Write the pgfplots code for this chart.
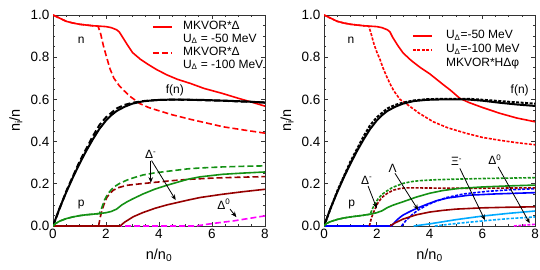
\documentclass[border=0pt]{standalone}
\usepackage{fontspec}
\setmainfont{Liberation Sans}
\usepackage{pgfplots}
\pgfplotsset{compat=1.18}
\usetikzlibrary{arrows.meta}
\definecolor{myred}{RGB}{255,0,0}
\definecolor{mygreen}{RGB}{20,145,20}
\definecolor{mydred}{RGB}{150,0,0}
\definecolor{mymag}{RGB}{255,0,255}
\definecolor{myblue}{RGB}{0,0,255}
\definecolor{mycyan}{RGB}{0,170,255}
\tikzset{
  lab/.style={font=\fontsize{12}{13}\selectfont},
  leg/.style={font=\fontsize{12}{13}\selectfont, anchor=mid west, inner sep=0pt},
  arr/.style={-{Stealth[length=5.5pt,width=4.5pt]}, line width=0.8pt, black},
}
\pgfplotsset{
  lw/.style={line width=1.6pt},
  bw/.style={line width=2pt},
  ldash/.style={dash pattern=on 6pt off 3pt},
  sdash/.style={dash pattern=on 3pt off 1.5pt},
  myaxis/.style={
    scale only axis, width=212pt, height=211pt,
    xmin=0, xmax=8, ymin=0, ymax=1,
    xtick={0,2,4,6,8}, ytick={0,0.2,0.4,0.6,0.8,1.0},
    minor x tick num=3, minor y tick num=3,
    tick align=inside, major tick length=4pt, minor tick length=2pt,
    axis line style={line width=0.8pt, black!80},
    every tick/.style={black!80, line width=0.6pt},
    /pgf/number format/assume math mode=true,
    ticklabel style={font=\fontsize{13.5}{15}\selectfont},
    yticklabel style={/pgf/number format/.cd, fixed, fixed zerofill, precision=1},
    xlabel={n/n\textsubscript{0}}, ylabel={n\textsubscript{i}/n},
    label style={font=\fontsize{14.5}{16}\selectfont},
    xlabel style={at={(axis description cs:0.5,-0.137)}, anchor=center},
    ylabel style={at={(axis description cs:-0.175,0.5)}, anchor=center},
  },
}
\begin{document}
\begin{tikzpicture}[x=1pt,y=1pt]
% ================= LEFT =================
\begin{axis}[myaxis, at={(53pt,44pt)}, anchor=south west]
% legend samples
\addplot[color=myred, lw] coordinates {(3.77,0.943) (4.49,0.943)};
\addplot[color=myred, lw, ldash] coordinates {(3.77,0.82) (4.49,0.82)};
\node[leg] at (axis cs:4.9,0.943) {MKVOR*Δ};
\node[leg] at (axis cs:4.9,0.884) {U\textsubscript{Δ} = -50 MeV};
\node[leg] at (axis cs:4.9,0.82) {MKVOR*Δ};
\node[leg] at (axis cs:4.9,0.761) {U\textsubscript{Δ} = -100 MeV};
% n
\addplot[color=myred, lw] coordinates {(0,1.0) (0.25,0.985) (0.5,0.97) (0.75,0.962) (1,0.956) (1.5,0.949) (2,0.945) (2.2,0.94) (2.4,0.93) (2.5,0.92) (2.6,0.9) (2.8,0.86) (3.0,0.822) (3.3,0.79) (3.6,0.765) (3.9,0.742) (4.3,0.716) (4.7,0.695) (5.2,0.675) (5.7,0.652) (6.4,0.628) (7.0,0.605) (7.5,0.587) (8,0.568)};
\addplot[color=myred, lw, ldash] coordinates {(0,1.0) (0.25,0.985) (0.5,0.97) (0.75,0.962) (1,0.956) (1.5,0.949) (1.7,0.947) (1.8,0.91) (1.9,0.855) (2.0,0.81) (2.15,0.745) (2.3,0.70) (2.5,0.665) (2.65,0.645) (2.9,0.615) (3.28,0.58) (3.6,0.562) (3.9,0.55) (4.5,0.527) (5.17,0.506) (5.8,0.488) (6.43,0.47) (7.2,0.455) (8,0.44)};
% f(n)
\addplot[color=black, bw] coordinates {(0,0) (0.25,0.085) (0.5,0.16) (0.75,0.23) (1,0.295) (1.25,0.355) (1.5,0.41) (1.75,0.46) (2,0.5) (2.2,0.525) (2.4,0.545) (2.7,0.565) (3.0,0.58) (3.4,0.591) (3.9,0.597) (4.5,0.599) (5.5,0.598) (6.5,0.594) (7.3,0.59) (8,0.585)};
\addplot[color=black, bw, ldash] coordinates {(0,0) (0.5,0.165) (1,0.305) (1.5,0.425) (1.75,0.478) (2,0.515) (2.4,0.557) (2.7,0.574) (3,0.584) (3.4,0.592) (3.9,0.597) (4.5,0.599) (5.5,0.597) (6.5,0.593) (7.3,0.589) (8,0.585)};
% Delta0
\addplot[color=mymag, lw, ldash] coordinates {(0,0) (5.4,0) (5.8,0.008) (6.4,0.018) (6.8,0.024) (7.4,0.036) (8,0.048)};
% Delta-
\addplot[color=mydred, lw] coordinates {(0,0) (2.53,0) (2.7,0.018) (3.03,0.044) (3.4,0.064) (3.85,0.084) (4.3,0.1) (5.1,0.123) (5.55,0.135) (6.37,0.15) (7.2,0.163) (8,0.174)};
\addplot[color=mydred, lw, ldash] coordinates {(1.72,0) (1.78,0.04) (1.84,0.07) (1.93,0.105) (2.03,0.135) (2.15,0.155) (2.28,0.17) (2.5,0.183) (2.8,0.193) (3.3,0.2) (3.85,0.207) (4.5,0.215) (5.1,0.221) (6,0.227) (7,0.231) (8,0.234)};
% p
\addplot[color=mygreen, lw] coordinates {(0,0) (0.1,0.012) (0.25,0.023) (0.5,0.035) (0.75,0.043) (1,0.049) (1.25,0.053) (1.5,0.056) (1.75,0.059) (2.0,0.063) (2.2,0.069) (2.4,0.08) (2.6,0.1) (2.8,0.115) (3.0,0.128) (3.4,0.152) (3.85,0.175) (4.3,0.193) (5.1,0.222) (5.55,0.233) (6.4,0.245) (7.2,0.251) (8,0.256)};
\addplot[color=mygreen, lw, ldash] coordinates {(0,0) (0.1,0.012) (0.25,0.023) (0.5,0.035) (0.75,0.043) (1,0.049) (1.25,0.053) (1.5,0.056) (1.75,0.059) (1.85,0.09) (1.95,0.125) (2.05,0.148) (2.15,0.165) (2.3,0.185) (2.53,0.203) (2.8,0.218) (3.0,0.227) (3.4,0.242) (3.85,0.252) (4.3,0.259) (5.1,0.271) (5.55,0.275) (6.4,0.28) (7.2,0.283) (8,0.285)};
% labels
\node[lab] at (axis cs:1.06,0.878) {n};
\node[lab] at (axis cs:1.06,0.104) {p};
\node[lab] at (axis cs:4.6,0.645) {f(n)};
\node[lab] at (axis cs:3.69,0.34) {Δ\textsuperscript{-}};
\draw[arr] (axis cs:3.69,0.31) -- (axis cs:3.69,0.205);
\draw[arr] (axis cs:3.72,0.31) -- (axis cs:4.63,0.123);
\node[lab] at (axis cs:6.45,0.104) {Δ\textsuperscript{0}};
\draw[arr] (axis cs:6.68,0.08) -- (axis cs:6.92,0.042);
\end{axis}
% ================= RIGHT =================
\begin{axis}[myaxis, at={(324pt,44pt)}, anchor=south west, width=211pt]
% legend samples
\addplot[color=myred, lw] coordinates {(3.37,0.9) (4.09,0.9)};
\addplot[color=myred, lw, sdash] coordinates {(3.37,0.834) (4.09,0.834)};
\node[leg] at (axis cs:4.62,0.9) {U\textsubscript{Δ}=-50 MeV};
\node[leg] at (axis cs:4.62,0.834) {U\textsubscript{Δ}=-100 MeV};
\node[leg] at (axis cs:4.62,0.768) {MKVOR*HΔφ};
% n
\addplot[color=myred, lw] coordinates {(0,1.0) (0.25,0.985) (0.5,0.97) (0.75,0.962) (1,0.956) (1.5,0.949) (2,0.945) (2.2,0.94) (2.4,0.93) (2.5,0.92) (2.6,0.895) (2.8,0.855) (3.0,0.82) (3.3,0.785) (3.64,0.752) (4.0,0.722) (4.5,0.672) (4.8,0.643) (5.15,0.605) (5.5,0.585) (6.0,0.562) (6.67,0.534) (7.3,0.512) (8,0.494)};
\addplot[color=myred, lw, sdash] coordinates {(0,1.0) (0.25,0.985) (0.5,0.97) (0.75,0.962) (1,0.956) (1.5,0.949) (1.7,0.947) (1.8,0.905) (1.9,0.86) (2.0,0.825) (2.12,0.79) (2.25,0.745) (2.37,0.71) (2.5,0.675) (2.65,0.64) (2.88,0.6) (3.2,0.572) (3.6,0.535) (4.14,0.494) (4.7,0.465) (5.4,0.439) (6.0,0.42) (6.67,0.406) (7.3,0.395) (8,0.385)};
% f(n)
\addplot[color=black, bw] coordinates {(0,0) (0.25,0.085) (0.5,0.16) (0.75,0.23) (1,0.295) (1.25,0.355) (1.5,0.41) (1.75,0.46) (2,0.5) (2.2,0.525) (2.4,0.545) (2.7,0.565) (3.0,0.58) (3.4,0.592) (3.9,0.598) (4.5,0.6) (5.4,0.6) (6.0,0.594) (6.67,0.584) (7.3,0.576) (8,0.569)};
\addplot[color=black, bw, sdash] coordinates {(0,0) (0.5,0.165) (1,0.305) (1.5,0.425) (1.75,0.478) (2,0.515) (2.4,0.557) (2.7,0.574) (3,0.585) (3.4,0.595) (3.9,0.601) (4.5,0.603) (5.5,0.603) (6.67,0.592) (7.3,0.586) (8,0.58)};
% Delta0
\addplot[color=mymag, lw, sdash] coordinates {(7.2,0) (7.6,0.004) (8,0.008)};
% Xi-
\addplot[color=mycyan, lw] coordinates {(3.4,0) (4,0.01) (5,0.03) (6,0.047) (7,0.06) (8,0.071)};
\addplot[color=mycyan, lw, sdash] coordinates {(4.2,0) (5.09,0.013) (6.35,0.028) (7,0.035) (8,0.043)};
% Lambda
\addplot[color=myblue, lw] coordinates {(0,0) (2.56,0) (2.7,0.02) (2.85,0.038) (3.0,0.052) (3.2,0.065) (3.38,0.076) (3.6,0.088) (3.9,0.103) (4.27,0.12) (4.7,0.133) (5.5,0.146) (6.5,0.152) (8,0.158)};
\addplot[color=myblue, lw, sdash] coordinates {(2.94,0) (3.1,0.025) (3.38,0.058) (3.6,0.078) (3.89,0.098) (4.2,0.115) (4.65,0.135) (5.3,0.152) (6.16,0.164) (7,0.171) (8,0.177)};
% Delta-
\addplot[color=mydred, lw] coordinates {(2.5,0) (2.7,0.015) (3.0,0.033) (3.5,0.053) (4,0.066) (4.5,0.074) (5,0.08) (6,0.086) (7,0.089) (8,0.091)};
\addplot[color=mydred, lw, sdash] coordinates {(1.72,0) (1.8,0.04) (1.93,0.08) (2.05,0.11) (2.19,0.135) (2.4,0.155) (2.63,0.17) (2.9,0.178) (3.13,0.181) (4,0.18) (5,0.179) (6,0.179) (7,0.18) (8,0.181)};
% p
\addplot[color=mygreen, lw] coordinates {(0,0) (0.1,0.012) (0.25,0.021) (0.5,0.031) (0.75,0.038) (1,0.043) (1.25,0.047) (1.5,0.051) (1.75,0.056) (2.0,0.063) (2.2,0.072) (2.4,0.087) (2.6,0.098) (3.0,0.115) (3.5,0.137) (4.0,0.155) (4.5,0.168) (5.1,0.178) (6,0.185) (7,0.19) (8,0.194)};
\addplot[color=mygreen, lw, sdash] coordinates {(0,0) (0.1,0.012) (0.25,0.021) (0.5,0.031) (0.75,0.038) (1,0.043) (1.25,0.047) (1.5,0.051) (1.75,0.056) (1.85,0.085) (1.95,0.11) (2.06,0.13) (2.2,0.15) (2.37,0.165) (2.6,0.183) (3.0,0.202) (3.3,0.21) (3.64,0.215) (4.2,0.219) (5,0.222) (6,0.225) (7,0.227) (8,0.229)};
% labels
\node[lab] at (axis cs:1.02,0.878) {n};
\node[lab] at (axis cs:1.05,0.1) {p};
\node[lab] at (axis cs:7.42,0.645) {f(n)};
\node[lab] at (axis cs:1.62,0.218) {Δ\textsuperscript{-}};
\draw[arr] (axis cs:1.67,0.19) -- (axis cs:2.0,0.084);
\node[lab] at (axis cs:2.6,0.273) {Λ};
\draw[arr] (axis cs:2.69,0.25) -- (axis cs:3.57,0.076);
\node[lab] at (axis cs:5.03,0.305) {Ξ\textsuperscript{-}};
\draw[arr] (axis cs:5.15,0.273) -- (axis cs:6.1,0.028);
\node[lab] at (axis cs:6.48,0.313) {Δ\textsuperscript{0}};
\draw[arr] (axis cs:6.6,0.281) -- (axis cs:7.8,0.013);
\end{axis}
\pgfresetboundingbox
\path (0pt,0pt) rectangle (540pt,270pt);
\end{tikzpicture}
\end{document}
